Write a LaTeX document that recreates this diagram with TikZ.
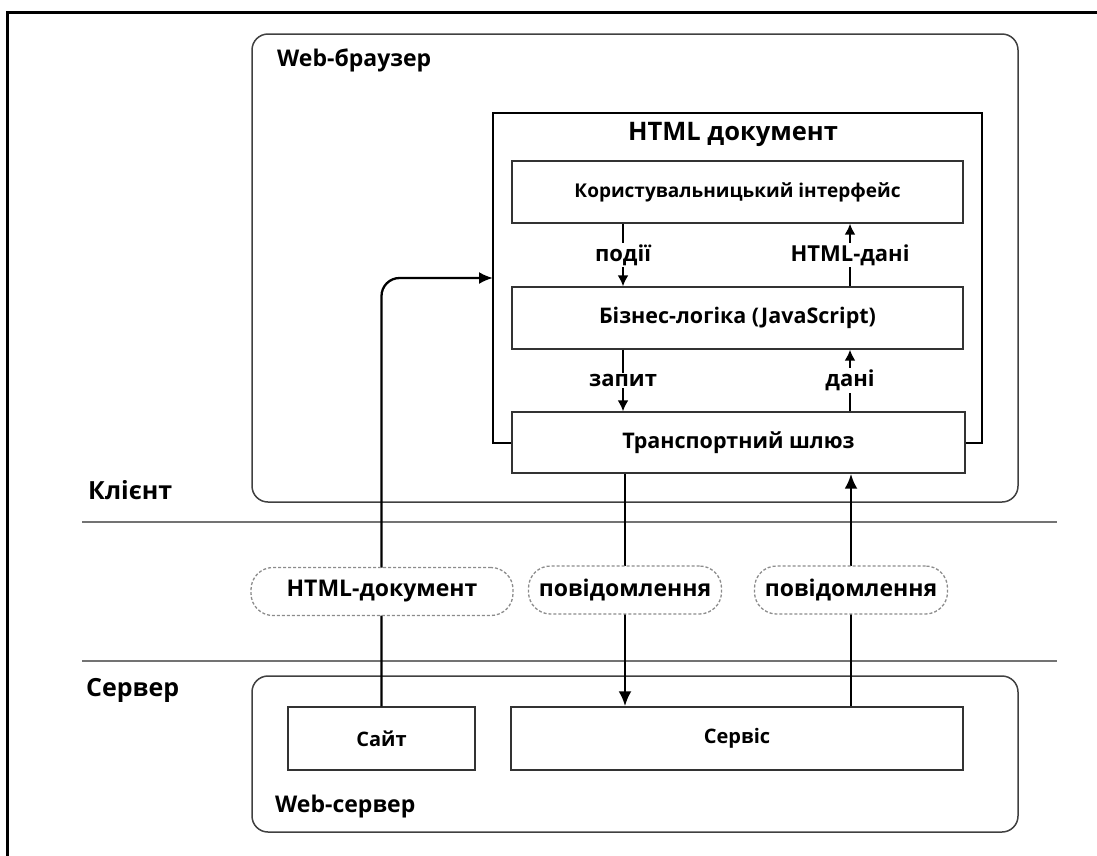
\documentclass[tikz,border=0pt]{standalone}
\usepackage{fontspec}
\setmainfont{Open Sans}
\usetikzlibrary{arrows.meta,calc}

\newcommand\dgHead{\fontsize{23}{26}\selectfont\bfseries}
\newcommand\dgTier{\fontsize{25}{29}\selectfont\bfseries}
\newcommand\dgTitle{\fontsize{25.5}{29}\selectfont\bfseries}
\newcommand\dgBox{\fontsize{19}{22}\selectfont\bfseries}
\newcommand\dgWideBox{\fontsize{21.5}{25}\selectfont\bfseries}
\newcommand\dgSrvBox{\fontsize{20}{23}\selectfont\bfseries}
\newcommand\dgFlow{\fontsize{22}{25}\selectfont\bfseries}
\newcommand\dgPill{\fontsize{23}{26}\selectfont\bfseries}

\begin{document}
\begin{tikzpicture}[x=1pt,y=-1pt,
  tier/.style={draw=black!75, line width=1.5pt, rounded corners=16pt, inner sep=0pt},
  docframe/.style={draw=black, line width=2.6pt, inner sep=0pt},
  block/.style={draw=black!80, line width=1.4pt, fill=white, inner sep=0pt, font=\dgBox},
  pill/.style={draw=black!45, densely dashed, line width=1.3pt, fill=white,
    rounded corners=22pt, inner sep=0pt, minimum height=48pt, font=\dgPill},
  heading/.style={anchor=west, inner sep=0pt, font=\dgHead},
  flowlbl/.style={fill=white, inner sep=1.5pt, font=\dgFlow},
  inarrow/.style={line width=2pt, -{Latex[length=11pt,width=11pt]}},
  netarrow/.style={line width=2.8pt, -{Latex[length=15pt,width=13pt]}},
  sep/.style={draw=black!55, line width=1.6pt}
]
\path[use as bounding box] (0,0) rectangle (1097,855);

% outer frame (only its top and left sides fall inside the page)
\draw[line width=3pt] (7,880) -- (7,12) -- (1120,12);

% client tier
\node[tier, minimum width=766pt, minimum height=468pt] (browser) at (635,268) {};
\node[heading] (browserlbl) at (277,60) {Web-браузер};

\node[docframe, minimum width=489pt, minimum height=330pt] (doc) at (737.5,278) {};
\node[inner sep=0pt, font=\dgTitle] (doctitle) at (733,134) {HTML документ};

\node[block, minimum width=451pt, minimum height=62pt] (ui) at (737.5,192) {Користувальницький інтерфейс};
\node[block, minimum width=451pt, minimum height=62pt, font=\dgWideBox] (biz) at (737.5,318) {Бізнес-логіка (JavaScript)};
\node[block, minimum width=453pt, minimum height=61pt, font=\dgWideBox] (gate) at (738.5,442.5) {Транспортний шлюз};

\coordinate (xl) at (623,0);
\coordinate (xr) at (850,0);
\coordinate (nl) at (625,0);
\coordinate (nr) at (851,0);

\draw[inarrow] (ui.south -| xl) -- node[flowlbl] (evlbl) {події} (biz.north -| xl);
\draw[inarrow] (biz.north -| xr) -- node[flowlbl] (htlbl) {HTML-дані} (ui.south -| xr);
\draw[inarrow] (biz.south -| xl) -- node[flowlbl] (rqlbl) {запит} (gate.north -| xl);
\draw[inarrow] (gate.north -| xr) -- node[flowlbl] (dtlbl) {дані} (biz.south -| xr);

\node[heading, font=\dgTier] (clientlbl) at (88,490) {Клієнт};

% tier separators
\coordinate (s1a) at (82,522);
\coordinate (s1b) at (1057,522);
\coordinate (s2a) at (82,661);
\coordinate (s2b) at (1057,661);
\draw[sep] (s1a) -- (s1b);
\draw[sep] (s2a) -- (s2b);

% server tier
\node[heading, font=\dgTier] (serverlbl) at (86,690) {Сервер};
\node[tier, minimum width=766pt, minimum height=156pt] (websrv) at (635,754) {};
\node[heading] (websrvlbl) at (275,807) {Web-сервер};

\node[block, minimum width=187pt, minimum height=63pt, font=\dgSrvBox] (site) at (381.5,738.5) {Сайт};
\node[block, minimum width=452pt, minimum height=63pt, font=\dgSrvBox] (service) at (737,738.5) {Сервіс};

% network traffic
\coordinate (docin) at (493,278);
\draw[line width=2.3pt, rounded corners=18pt, -{Latex[length=14pt,width=12pt]}]
  (site.north) |- (docin);
\node[pill, minimum width=262pt] (pdoc) at (382,591.5) {HTML-документ};

\draw[netarrow] (gate.south -| nl) -- node[pill, minimum width=193pt] (preq) {повідомлення} (service.north -| nl);
\draw[netarrow] (service.north -| nr) -- node[pill, minimum width=193pt] (pres) {повідомлення} (gate.south -| nr);
\end{tikzpicture}
\end{document}
